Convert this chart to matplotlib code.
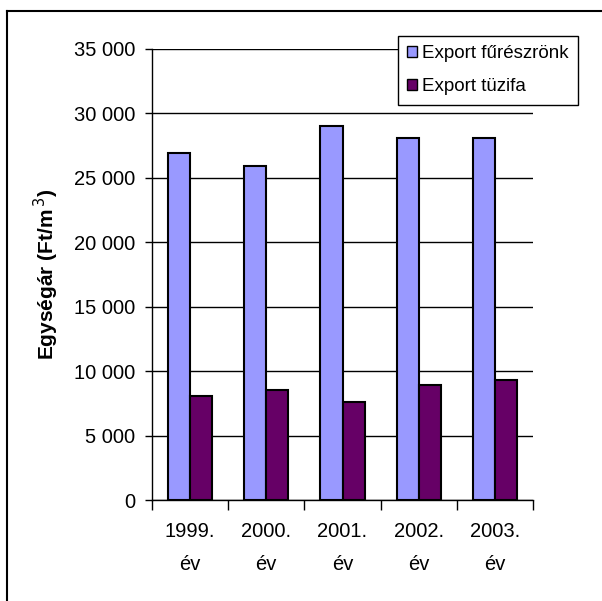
import matplotlib
matplotlib.use("Agg")
import matplotlib.pyplot as plt
from matplotlib.lines import Line2D
from matplotlib.patches import Patch
import numpy as np

plt.rcParams['font.family'] = ['Liberation Sans', 'DejaVu Sans']

years = ["1999.\név", "2000.\név", "2001.\név", "2002.\név", "2003.\név"]
series_names = ["Export fűrészrönk", "Export tüzifa"]
fureszronk = [26900, 25900, 29000, 28100, 28100]
tuzifa = [8050, 8500, 7600, 8900, 9300]
y_ticks = [0, 5000, 10000, 15000, 20000, 25000, 30000, 35000]
colors = ["#9999FF", "#660066"]

W, H = 602, 601
fig = plt.figure(figsize=(W / 100, H / 100), dpi=100)
ax = fig.add_axes([152 / W, 1 - 500 / H, (533 - 152) / W, (500 - 49) / H])

x = np.arange(len(years))
bw = 0.29
ax.bar(x - bw / 2, fureszronk, bw, color=colors[0], edgecolor="black",
       linewidth=1.5, zorder=3)
ax.bar(x + bw / 2, tuzifa, bw, color=colors[1], edgecolor="black",
       linewidth=1.5, zorder=3)

ax.set_xlim(-0.5, len(years) - 0.5)
ax.set_ylim(0, 35000)
ax.set_yticks(y_ticks)
ax.set_yticklabels([f"{v:,}".replace(",", " ") for v in y_ticks], fontsize=14.5)
ax.yaxis.grid(True, color="black", linewidth=1.0, zorder=0)
ax.set_axisbelow(True)

# category separators as tick marks, labels centred under each group
ax.set_xticks(np.arange(-0.5, len(years), 1.0))
ax.set_xticklabels([])
ax.set_xticks(x, minor=True)
ax.set_xticklabels(years, minor=True, fontsize=14.5, linespacing=1.95)
ax.tick_params(axis="x", which="minor", length=0, pad=16)
ax.tick_params(axis="x", which="major", length=7, width=1.0, direction="out")
ax.tick_params(axis="y", length=5, width=1.0, direction="out", pad=7)

for s in ["top", "right"]:
    ax.spines[s].set_visible(False)
ax.spines["left"].set_linewidth(1.0)
ax.spines["bottom"].set_linewidth(1.0)

ax.set_ylabel("Egységár (Ft/m$^{\\,3}$)", fontsize=15, fontweight="bold")
ax.yaxis.set_label_coords((61 - 152) / (533 - 152), 0.5)

handles = [Patch(facecolor=c, edgecolor="black", linewidth=1.0) for c in colors]
leg = fig.legend(handles, series_names, loc="upper left",
                 bbox_to_anchor=(398 / W, 1 - 36 / H), fontsize=13.5,
                 frameon=True, fancybox=False, edgecolor="black",
                 framealpha=1, borderaxespad=0, borderpad=0.5,
                 handlelength=0.5, handleheight=0.5, handletextpad=0.3,
                 labelspacing=0.85)
leg.get_frame().set_linewidth(1.0)

# outer chart frame
fig.add_artist(Line2D([7 / W, 7 / W], [0, 1 - 10.5 / H], color="black",
                      linewidth=1.5, transform=fig.transFigure))
fig.add_artist(Line2D([7 / W, 1], [1 - 10.5 / H, 1 - 10.5 / H], color="black",
                      linewidth=1.5, transform=fig.transFigure))

fig.savefig("out.png", dpi=100)
